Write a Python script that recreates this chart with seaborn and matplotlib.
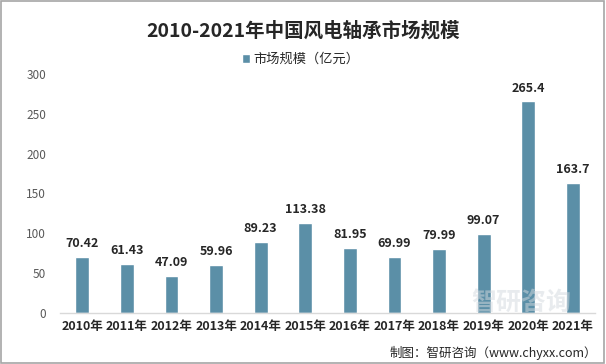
import numpy as np
import pandas as pd
import seaborn as sns
import matplotlib.pyplot as plt
from matplotlib.patches import Rectangle

years = ['2010年', '2011年', '2012年', '2013年', '2014年', '2015年',
         '2016年', '2017年', '2018年', '2019年', '2020年', '2021年']
market = [70.42, 61.43, 47.09, 59.96, 89.23, 113.38,
          81.95, 69.99, 79.99, 99.07, 265.4, 163.7]
labels = ['70.42', '61.43', '47.09', '59.96', '89.23', '113.38',
          '81.95', '69.99', '79.99', '99.07', '265.4', '163.7']
yticks = [0, 50, 100, 150, 200, 250, 300]

sns.set_theme(style='white')
plt.rcParams['font.family'] = ['Noto Sans CJK SC', 'DejaVu Sans']

df = pd.DataFrame({'year': years, 'value': market})

fig = plt.figure(figsize=(6.06, 3.64), dpi=100)
ax = fig.add_axes([0.099, 0.140, 0.883, 0.657])

# faint watermark behind the bars
fig.text(0.86, 0.168, '智研咨询', ha='center', va='center', fontsize=18,
         color='#d3d9de', alpha=0.5, fontweight='bold', zorder=0)

color = '#5b8fa7'
sns.barplot(data=df, x='year', y='value', color=color, width=0.31,
            saturation=1, ax=ax, label='市场规模（亿元）')

ax.bar_label(ax.containers[0], labels=labels, padding=5, fontsize=9,
             fontweight='bold', color='#262626')

ax.set_ylim(0, 300)
ax.set_yticks(yticks)
ax.set_xlim(-0.5, len(years) - 0.5)
ax.tick_params(axis='y', labelsize=8.5, labelcolor='#595959', length=0, pad=10)
ax.tick_params(axis='x', labelsize=9, labelcolor='#262626', length=0, pad=5)
for t in ax.get_xticklabels():
    t.set_fontweight('bold')
ax.set_xlabel('')
ax.set_ylabel('')
ax.patch.set_alpha(0)
for s in ['top', 'right', 'left']:
    ax.spines[s].set_visible(False)
ax.spines['bottom'].set_color('#d9d9d9')
ax.spines['bottom'].set_linewidth(1)

fig.text(0.5, 0.915, '2010-2021年中国风电轴承市场规模', ha='center', va='center',
         fontsize=14, fontweight='bold', color='#262626')

leg = ax.legend(loc='center', bbox_to_anchor=(0.45, 1.06), frameon=False,
                fontsize=9.5, handlelength=0.6, handleheight=0.6,
                handletextpad=0.3)
for t in leg.get_texts():
    t.set_color('#262626')

fig.text(0.985, 0.03, '制图：智研咨询（www.chyxx.com）', ha='right', va='center',
         fontsize=9, color='#262626')

fig.patches.append(Rectangle((0.002, 0.003), 0.995, 0.994, transform=fig.transFigure,
                             fill=False, edgecolor='#a6a6a6', linewidth=1.2))

fig.savefig('out.png', dpi=100)
